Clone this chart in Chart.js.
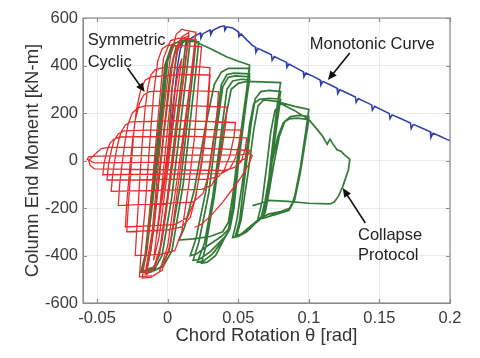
<!DOCTYPE html>
<html>
<head>
<meta charset="utf-8">
<script src="https://cdn.jsdelivr.net/npm/chart.js@4.4.0/dist/chart.umd.min.js"></script>
<style>
  html, body { margin: 0; padding: 0; background: #fff; }
  canvas { display: block; }
</style>
</head>
<body>
<canvas id="chart" width="480" height="358"></canvas>
<script>
// --- data (chord rotation [rad], column end moment [kN-m]) ---
const xTicks = [-0.05, 0, 0.05, 0.1, 0.15, 0.2];
const yTicks = [-600, -400, -200, 0, 200, 400, 600];

const monotonic = [
  [0.000, 0], [0.001, 40], [0.003, 160], [0.005, 290], [0.007, 400], [0.009, 470], [0.011, 500],
  [0.013, 510], [0.0135, 488], [0.015, 508], [0.018, 520], [0.023, 537], [0.0235, 515], [0.025, 534],
  [0.030, 550], [0.0305, 530], [0.032, 548], [0.037, 563], [0.040, 567], [0.0405, 548], [0.042, 563],
  [0.046, 558], [0.050, 542], [0.0505, 522], [0.052, 533], [0.056, 508], [0.060, 485], [0.062, 478],
  [0.0625, 455], [0.064, 472], [0.069, 458], [0.0735, 445], [0.074, 422], [0.0755, 438], [0.080, 425],
  [0.084, 414], [0.0845, 392], [0.086, 406], [0.091, 390], [0.096, 374], [0.0965, 352], [0.098, 368],
  [0.103, 354], [0.108, 339], [0.1085, 317], [0.110, 333], [0.115, 319], [0.120, 304], [0.1205, 282],
  [0.122, 298], [0.127, 284], [0.133, 267], [0.1335, 245], [0.135, 261], [0.140, 247], [0.1445, 234],
  [0.145, 212], [0.1465, 228], [0.152, 212], [0.157, 198], [0.1575, 176], [0.159, 192], [0.165, 177],
  [0.172, 158], [0.1725, 134], [0.174, 152], [0.180, 137], [0.186, 121], [0.1865, 96], [0.188, 115],
  [0.193, 102], [0.198, 88], [0.200, 84]
];

const symmetricCyclic = [
  [0, 0], [0.004, 180], [-0.004, -170], [0.0075, 320], [-0.0075, -310],
  [-0.002, -50], [0.004, 250], [0.008, 390], [0.010, 430],
  [0.006, 250], [0.000, -40], [-0.006, -320], [-0.010, -420],
  [-0.006, -220], [0.001, 200], [0.006, 440], [0.010, 520], [0.015, 540],
  [0.011, 350], [0.004, 0], [-0.004, -340], [-0.009, -450], [-0.015, -480],
  [-0.010, -300], [-0.002, 150], [0.004, 430], [0.009, 510], [0.015, 525],
  [0.011, 330], [0.003, -30], [-0.005, -360], [-0.010, -455], [-0.016, -478],
  [-0.011, -300], [-0.004, 150], [0.002, 440], [0.006, 530], [0.010, 553], [0.013, 548], [0.020, 540],
  [0.016, 330], [0.008, -20], [0.000, -360], [-0.006, -470], [-0.012, -492], [-0.018, -495],
  [-0.014, -320], [-0.008, 100], [-0.003, 430], [0.002, 505], [0.008, 515], [0.020, 510],
  [0.016, 320], [0.009, -30], [0.002, -350], [-0.004, -462], [-0.010, -485], [-0.020, -490],
  [-0.019, -400], [-0.016, -200], [-0.013, 50], [-0.010, 280], [-0.007, 420], [-0.004, 470], [0.000, 486], [0.024, 480],
  [0.022, 350], [0.019, 100], [0.015, -100], [0.010, -300], [0.005, -380], [-0.005, -395], [-0.023, -400],
  [-0.022, -300], [-0.020, -100], [-0.018, 80], [-0.016, 220], [-0.014, 310], [-0.012, 360], [-0.009, 382], [-0.004, 390], [0.022, 395], [0.030, 390],
  [0.029, 300], [0.027, 150], [0.024, 0], [0.020, -150], [0.016, -240], [0.010, -280], [0.000, -292], [-0.029, -300],
  [-0.028, -200], [-0.026, -30], [-0.024, 120], [-0.022, 220], [-0.019, 300], [-0.016, 338], [-0.012, 352], [0.010, 362], [0.030, 360],
  [0.029, 260], [0.027, 120], [0.024, -20], [0.019, -170], [0.014, -240], [0.005, -270], [-0.030, -280],
  [-0.029, -180], [-0.027, -40], [-0.025, 80], [-0.023, 170], [-0.020, 240], [-0.017, 276], [-0.013, 290], [0.010, 295], [0.036, 290],
  [0.035, 200], [0.032, 60], [0.029, -60], [0.025, -140], [0.018, -175], [-0.035, -190],
  [-0.034, -100], [-0.032, 0], [-0.030, 90], [-0.028, 155], [-0.025, 200], [-0.021, 222], [-0.016, 230], [0.010, 232], [0.042, 225],
  [0.041, 150], [0.038, 30], [0.035, -60], [0.031, -105], [0.024, -122], [-0.040, -130],
  [-0.039, -60], [-0.037, 20], [-0.035, 80], [-0.033, 120], [-0.030, 150], [-0.026, 163], [0.010, 168], [0.048, 160],
  [0.047, 100], [0.044, 20], [0.040, -40], [0.036, -68], [0.028, -78], [-0.043, -82],
  [-0.042, -20], [-0.040, 40], [-0.038, 85], [-0.035, 112], [-0.031, 125], [0.010, 132], [0.052, 128],
  [0.051, 80], [0.048, 10], [0.044, -35], [0.038, -55], [-0.046, -60],
  [-0.045, -10], [-0.043, 40], [-0.041, 72], [-0.038, 90], [-0.034, 99], [0.010, 102], [0.056, 95],
  [0.055, 50], [0.052, -5], [0.047, -30], [0.040, -42], [-0.052, -35],
  [-0.055, -20], [-0.056, 0], [-0.054, 12], [-0.050, 35], [-0.047, 50], [-0.042, 55], [0.010, 55], [0.058, 44],
  [0.056, 10], [0.050, -5], [-0.052, -10], [-0.057, 5],
  [-0.056, 15], [-0.050, 18], [0.000, 22], [0.052, 24], [0.058, 30], [0.060, 20],
  [0.057, -20], [0.052, -70], [0.046, -120], [0.039, -175], [0.031, -230], [0.024, -268], [0.019, -282]
];

const collapseProtocol = [
  [0.000, 0], [0.003, 300], [0.007, 470], [0.011, 500], [0.013, 505],
  [0.010, 350], [0.000, -150], [-0.006, -400], [-0.010, -450], [-0.015, -458],
  [-0.012, -380], [-0.004, 50], [0.002, 380], [0.006, 480], [0.011, 505], [0.016, 510],
  [0.013, 350], [0.003, -150], [-0.004, -400], [-0.009, -455], [-0.018, -465],
  [-0.015, -390], [-0.007, 50], [-0.001, 400], [0.004, 490], [0.010, 507], [0.020, 505],
  [0.018, 380], [0.009, -100], [0.001, -380], [-0.005, -450], [-0.012, -470], [-0.019, -470],
  [-0.016, -400], [-0.008, 50], [-0.002, 400], [0.003, 488], [0.010, 505], [0.022, 500],
  [0.020, 380], [0.011, -100], [0.003, -380], [-0.003, -445], [-0.010, -465], [-0.018, -470],
  [-0.015, -390], [-0.006, 60], [0.000, 420], [0.005, 495], [0.017, 507], [0.030, 472], [0.042, 436], [0.050, 418], [0.058, 402],
  [0.056, 300], [0.050, 40], [0.046, -150], [0.043, -260], [0.039, -300], [0.030, -320], [0.018, -330], [0.008, -335],
  [0.012, -280], [0.019, -120], [0.027, 150], [0.033, 320], [0.038, 372], [0.043, 388], [0.058, 388],
  [0.056, 300], [0.050, 0], [0.046, -200], [0.043, -290], [0.038, -320], [0.028, -360], [0.020, -395], [0.016, -400],
  [0.020, -330], [0.027, -130], [0.034, 150], [0.038, 320], [0.042, 362], [0.047, 368], [0.058, 365],
  [0.056, 285], [0.050, 0], [0.047, -200], [0.044, -290], [0.040, -325], [0.030, -385], [0.022, -418], [0.018, -420],
  [0.022, -345], [0.029, -140], [0.035, 140], [0.039, 310], [0.043, 350], [0.048, 356], [0.058, 352],
  [0.056, 275], [0.050, -10], [0.047, -200], [0.044, -290], [0.040, -328], [0.032, -392], [0.025, -425], [0.021, -428],
  [0.026, -350], [0.032, -150], [0.038, 120], [0.042, 300], [0.046, 335], [0.052, 342], [0.058, 340],
  [0.056, 260], [0.050, -20], [0.047, -200], [0.044, -290], [0.040, -330], [0.034, -400], [0.028, -428], [0.024, -432],
  [0.027, -360], [0.033, -150], [0.040, 150], [0.045, 300], [0.050, 325], [0.056, 333], [0.080, 328],
  [0.078, 250], [0.073, 0], [0.070, -170], [0.068, -230], [0.064, -250], [0.058, -280], [0.052, -310], [0.048, -318],
  [0.051, -250], [0.055, -50], [0.059, 150], [0.062, 260], [0.066, 290], [0.072, 295], [0.080, 290],
  [0.078, 210], [0.073, 0], [0.070, -170], [0.068, -235], [0.063, -260], [0.056, -300], [0.050, -320], [0.046, -325],
  [0.049, -250], [0.054, -50], [0.058, 150], [0.061, 240], [0.065, 258], [0.072, 262], [0.080, 258],
  [0.078, 180], [0.074, 0], [0.071, -160], [0.069, -220], [0.065, -245], [0.058, -290], [0.052, -312], [0.049, -315],
  [0.052, -250], [0.057, -50], [0.061, 130], [0.064, 230], [0.068, 255], [0.076, 250], [0.090, 228], [0.100, 215],
  [0.098, 130], [0.094, -30], [0.090, -150], [0.087, -200], [0.080, -215], [0.072, -225], [0.068, -235],
  [0.071, -160], [0.075, -20], [0.079, 100], [0.083, 165], [0.087, 185], [0.093, 190], [0.100, 185],
  [0.098, 110], [0.094, -40], [0.090, -160], [0.086, -205], [0.078, -220], [0.070, -240], [0.066, -245],
  [0.069, -170], [0.073, -30], [0.078, 100], [0.082, 160], [0.086, 175], [0.092, 178], [0.100, 172],
  [0.098, 100], [0.094, -50], [0.090, -165], [0.086, -210], [0.078, -225], [0.068, -242], [0.064, -245],
  [0.067, -170], [0.070, -30], [0.073, 120], [0.076, 210], [0.080, 240], [0.090, 210], [0.100, 172],
  [0.106, 130], [0.110, 100], [0.113, 68], [0.115, 90], [0.117, 70], [0.120, 45], [0.123, 38],
  [0.125, 25], [0.127, 15], [0.129, 5],
  [0.128, -40], [0.124, -110], [0.121, -150], [0.118, -175], [0.115, -183], [0.100, -180],
  [0.085, -172], [0.072, -168], [0.066, -180], [0.060, -190]
];

// notes: [text, theta, moment at baseline]
const notes = [
  ["Symmetric", -0.0567, 486], ["Cyclic", -0.0567, 394],
  ["Monotonic Curve", 0.1007, 469],
  ["Collapse", 0.1348, -335], ["Protocol", 0.1348, -419]
];
// arrows: [from theta, from moment, to theta, to moment]
const arrows = [
  [-0.0284, 389, -0.0163, 288],
  [0.129, 453, 0.1135, 339],
  [0.140, -263, 0.124, -116]
];

const FONT = '"Liberation Sans", Arial, Helvetica, sans-serif';
const toXY = pts => pts.map(p => ({ x: p[0], y: p[1] }));

// --- trang trí: khung, vạch chia, chú thích ---
const decor = {
  id: "decor",
  beforeDraw(chart) {
    const ctx = chart.ctx;
    ctx.save();
    ctx.fillStyle = "#fff";
    ctx.fillRect(0, 0, chart.width, chart.height);
    ctx.restore();
  },
  afterDraw(chart) {
    const { ctx, chartArea: a, scales: { x, y } } = chart;
    ctx.save();
    ctx.strokeStyle = "#8c8c8c";
    ctx.lineWidth = 1.2;
    ctx.strokeRect(a.left, a.top, a.right - a.left, a.bottom - a.top);
    ctx.beginPath();
    xTicks.forEach(v => {
      const px = Math.round(x.getPixelForValue(v)) + 0.5;
      ctx.moveTo(px, a.bottom); ctx.lineTo(px, a.bottom - 4);
      ctx.moveTo(px, a.top); ctx.lineTo(px, a.top + 4);
    });
    yTicks.forEach(v => {
      const py = Math.round(y.getPixelForValue(v)) + 0.5;
      ctx.moveTo(a.left, py); ctx.lineTo(a.left + 4, py);
      ctx.moveTo(a.right, py); ctx.lineTo(a.right - 4, py);
    });
    ctx.stroke();

    // annotations
    ctx.fillStyle = "#222";
    ctx.font = "16.5px " + FONT;
    ctx.textAlign = "left";
    ctx.textBaseline = "alphabetic";
    notes.forEach(n => ctx.fillText(n[0], x.getPixelForValue(n[1]), y.getPixelForValue(n[2])));

    ctx.strokeStyle = "#111";
    ctx.fillStyle = "#111";
    ctx.lineWidth = 1.6;
    arrows.forEach(ar => {
      const x0 = x.getPixelForValue(ar[0]), y0 = y.getPixelForValue(ar[1]);
      const x1 = x.getPixelForValue(ar[2]), y1 = y.getPixelForValue(ar[3]);
      const ang = Math.atan2(y1 - y0, x1 - x0), L = 9, W = 4;
      ctx.beginPath();
      ctx.moveTo(x0, y0);
      ctx.lineTo(x1 - Math.cos(ang) * L * 0.8, y1 - Math.sin(ang) * L * 0.8);
      ctx.stroke();
      ctx.beginPath();
      ctx.moveTo(x1, y1);
      ctx.lineTo(x1 - Math.cos(ang) * L - Math.sin(ang) * W, y1 - Math.sin(ang) * L + Math.cos(ang) * W);
      ctx.lineTo(x1 - Math.cos(ang) * L + Math.sin(ang) * W, y1 - Math.sin(ang) * L - Math.cos(ang) * W);
      ctx.closePath();
      ctx.fill();
    });

    // axis titles
    ctx.fillStyle = "#333";
    ctx.font = "18.5px " + FONT;
    ctx.textAlign = "center";
    ctx.textBaseline = "alphabetic";
    ctx.fillText("Chord Rotation \u03b8 [rad]", (a.left + a.right) / 2, 341);
    ctx.translate(38, (a.top + a.bottom) / 2);
    ctx.rotate(-Math.PI / 2);
    ctx.fillText("Column End Moment [kN-m]", 0, 0);
    ctx.restore();
  }
};

const lineSet = (label, pts, color, width) => ({
  label, data: toXY(pts), borderColor: color, backgroundColor: color,
  showLine: true, pointRadius: 0, borderWidth: width, tension: 0, fill: false
});

new Chart(document.getElementById("chart"), {
  type: "scatter",
  data: {
    datasets: [
      lineSet("Symmetric Cyclic", symmetricCyclic, "rgb(232,45,45)", 1.3),
      lineSet("Collapse Protocol", collapseProtocol, "rgb(50,122,56)", 1.7),
      lineSet("Monotonic Curve", monotonic, "rgb(45,62,168)", 1.5)
    ]
  },
  options: {
    responsive: false,
    animation: false,
    devicePixelRatio: 1,
    layout: { padding: { left: 0, right: 30, top: 18, bottom: 0 } },
    plugins: { legend: { display: false }, tooltip: { enabled: false } },
    scales: {
      x: {
        type: "linear", min: -0.06, max: 0.2,
        afterBuildTicks: s => { s.ticks = xTicks.map(v => ({ value: v })); },
        afterFit: s => { s.height = 55; },
        grid: { color: "#ebebeb", drawTicks: false },
        border: { color: "#8c8c8c" },
        ticks: { padding: 6, color: "#3a3a3a", font: { family: FONT, size: 16.5 }, callback: v => String(v) }
      },
      y: {
        type: "linear", min: -600, max: 600,
        afterBuildTicks: s => { s.ticks = yTicks.map(v => ({ value: v })); },
        afterFit: s => { s.width = 83; },
        grid: { color: "#ebebeb", drawTicks: false },
        border: { color: "#8c8c8c" },
        ticks: { padding: 5, color: "#3a3a3a", font: { family: FONT, size: 16.5 }, callback: v => String(v) }
      }
    }
  },
  plugins: [decor]
});
</script>
</body>
</html>
